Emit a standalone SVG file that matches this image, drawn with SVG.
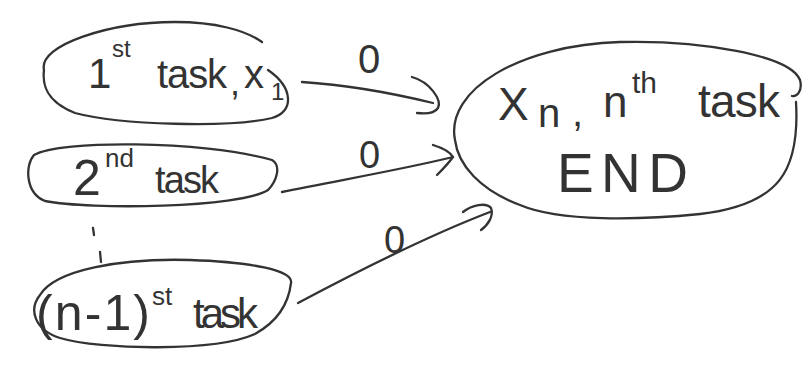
<svg xmlns="http://www.w3.org/2000/svg" width="809" height="371" viewBox="0 0 809 371">
  <style>
    .ink { fill: none; stroke: #333; stroke-width: 2.3; stroke-linecap: round; stroke-linejoin: round; }
    .txt { font-family: "Liberation Sans", "DejaVu Sans", sans-serif; fill: #333; }
  </style>
  <rect width="809" height="371" fill="#ffffff"/>

  <!-- first task -->
  <g id="node-first">
    <path class="ink" d="M 44,70 C 38,45 110,22 175,22 C 215,22 245,30 262,42 M 268,70 C 294,88 294,112 272,118 C 230,128 120,125 75,113 C 47,102 42,86 44,70"/>
    <text class="txt" x="88" y="88" font-size="42">1</text>
    <text class="txt" x="112" y="57" font-size="24">st</text>
    <text class="txt" x="157" y="88" font-size="40" textLength="70">task</text>
    <text class="txt" x="230" y="95" font-size="36">,</text>
    <text class="txt" x="244" y="88" font-size="40">x</text>
    <text class="txt" x="271" y="100" font-size="24">1</text>
  </g>

  <!-- second task -->
  <g id="node-second">
    <path class="ink" d="M 34,155 C 60,140 200,140 272,160 C 282,166 276,182 268,190 C 240,208 90,210 45,201 C 25,193 25,165 34,155"/>
    <text class="txt" x="73" y="195" font-size="50">2</text>
    <text class="txt" x="105" y="167" font-size="26">nd</text>
    <text class="txt" x="155" y="193" font-size="38" textLength="64">task</text>
  </g>

  <!-- continuation marks -->
  <g id="ellipsis">
    <path class="ink" d="M 93,228 L 94,235 M 100,252 L 101,262" stroke-width="2"/>
  </g>

  <!-- (n-1)st task -->
  <g id="node-penultimate">
    <path class="ink" d="M 40,295 C 55,270 120,258 190,260 C 250,262 294,270 291,283 C 289,300 280,320 255,334 C 215,352 100,350 60,338 C 35,330 28,310 40,295"/>
    <text class="txt" x="36" y="330" font-size="50" textLength="114">(n-1)</text>
    <text class="txt" x="152" y="305" font-size="26">st</text>
    <text class="txt" x="193" y="328" font-size="42" textLength="65">task</text>
  </g>

  <!-- final task -->
  <g id="node-end">
    <path class="ink" d="M 455,140 C 445,90 520,45 620,42 C 700,40 790,55 800,80 C 803,92 796,97 792,96 M 796,102 C 800,170 780,205 700,214 C 640,220 560,222 520,205 C 480,190 458,165 455,140"/>
    <text class="txt" x="498" y="120" font-size="46">X</text>
    <text class="txt" x="538" y="127" font-size="40">n</text>
    <text class="txt" x="572" y="126" font-size="40">,</text>
    <text class="txt" x="603" y="117" font-size="44">n</text>
    <text class="txt" x="632" y="93" font-size="30">th</text>
    <text class="txt" x="698" y="117" font-size="46" textLength="82">task</text>
    <text class="txt" x="557" y="192" font-size="55" textLength="131">END</text>
  </g>

  <!-- connectors with their weights -->
  <g id="connectors">
    <path class="ink" d="M 302,82 C 350,85 400,95 433,103"/>
    <path class="ink" d="M 412,77 C 430,82 442,100 438,108 C 434,114 425,114 417,113"/>
    <text class="txt" x="358" y="73" font-size="40">0</text>

    <path class="ink" d="M 282,192 C 340,180 400,170 453,157"/>
    <path class="ink" d="M 433,145 C 443,148 450,152 453,157 C 448,164 442,170 437,175"/>
    <text class="txt" x="359" y="168" font-size="38">0</text>

    <path class="ink" d="M 298,303 C 360,270 430,235 490,212"/>
    <path class="ink" d="M 463,212 C 472,205 486,202 491,208 C 494,216 488,225 481,230"/>
    <text class="txt" x="384" y="253" font-size="38">0</text>
  </g>
</svg>
